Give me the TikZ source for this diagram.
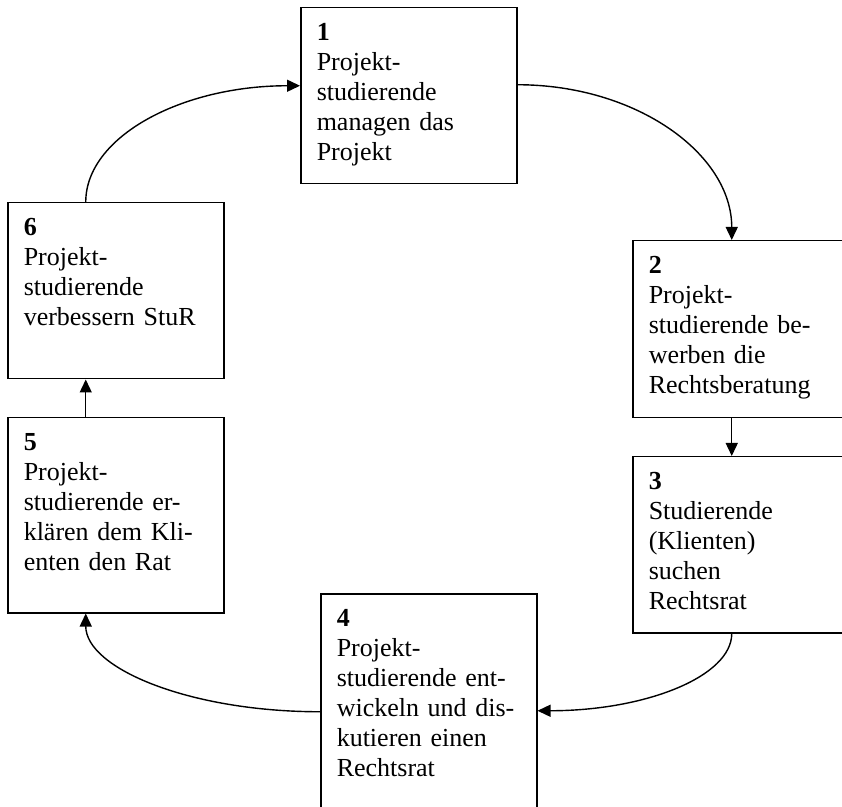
\documentclass[tikz,border=0pt]{standalone}
\usepackage{fontspec}
\setmainfont{Liberation Serif}
\usetikzlibrary{arrows.meta}
\tikzset{
  stepbox/.style={draw, line width=1.5pt, anchor=north west, align=left,
    text width=184pt, inner xsep=16pt, inner ysep=0pt,
    text height=33pt, text depth=143pt,
    font=\fontsize{26pt}{30pt}\selectfont},
  flow/.style={line width=1.4pt, -{Triangle[length=13pt,width=12pt]}}
}
\begin{document}
\begin{tikzpicture}[x=1pt,y=1pt]
    \useasboundingbox (0,0) rectangle (842,806);
    \clip (0,0) rectangle (842,806);
    \node[stepbox] (s1) at (300,799) {\textbf{1}\\Projekt-\\studierende\\managen das\\Projekt};
    \node[stepbox, text depth=144pt] (s2) at (632,566) {\textbf{2}\\Projekt-\\studierende be-\\werben die\\Rechtsberatung};
    \node[stepbox] (s3) at (632,350) {\textbf{3}\\Studierende\\(Klienten)\\suchen\\Rechtsrat};
    \node[stepbox, text depth=197pt] (s4) at (320,213) {\textbf{4}\\Projekt-\\studierende ent-\\wickeln und dis-\\kutieren einen\\Rechtsrat};
    \node[stepbox, text depth=162pt] (s5) at (7,389) {\textbf{5}\\Projekt-\\studierende er-\\klären dem Kli-\\enten den Rat};
    \node[stepbox] (s6) at (7,604) {\textbf{6}\\Projekt-\\studierende\\verbessern StuR};
    \draw[flow] ([xshift=-30pt]s6.north) .. controls +(0,65) and +(-119,0) .. ([yshift=10pt]s1.west);
    \draw[flow] ([yshift=11pt]s1.east) .. controls +(119,0) and +(0,86) .. ([xshift=-9pt]s2.north);
    \draw[flow] ([xshift=-9pt]s2.south) -- ([xshift=-9pt]s3.north);
    \draw[flow] ([xshift=-9pt]s3.south) .. controls +(0,-43) and +(108,0) .. ([yshift=-2pt]s4.east);
    \draw[flow] ([yshift=-3pt]s4.west) .. controls +(-130,0) and +(0,-55) .. ([xshift=-30pt]s5.south);
    \draw[flow] ([xshift=-30pt]s5.north) -- ([xshift=-30pt]s6.south);
    \end{tikzpicture}
\end{document}
